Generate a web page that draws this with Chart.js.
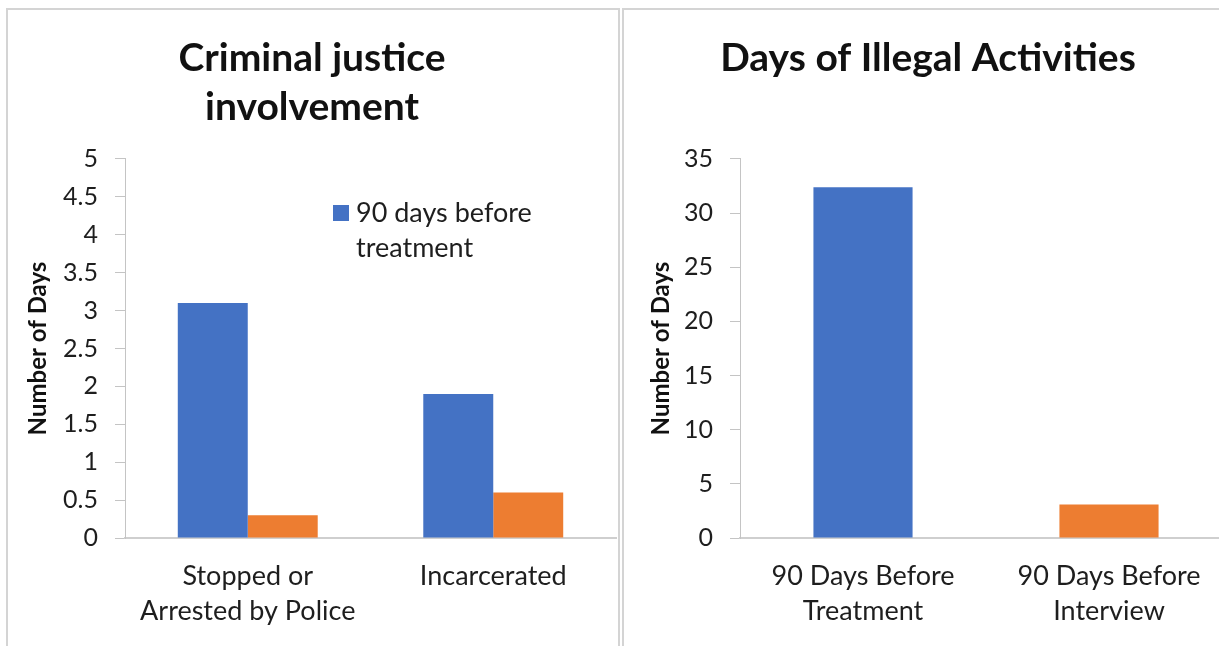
<!DOCTYPE html>
<html>
<head>
<meta charset="utf-8">
<script src="https://cdn.jsdelivr.net/npm/chart.js@4.4.1/dist/chart.umd.min.js"></script>
<style>
  html, body { margin: 0; padding: 0; background: #fff; overflow: hidden; width: 1219px; height: 646px; }
  .box { position: absolute; border: 2px solid #d4d4d4; border-bottom: none; background: #fff; }
  #boxL { left: 6px; top: 8px; width: 610px; height: 700px; }
  #boxR { left: 622px; top: 8px; width: 640px; height: 700px; }
  canvas { display: block; }
</style>
</head>
<body>
<div id="boxL" class="box"><canvas id="cL" width="610" height="636"></canvas></div>
<div id="boxR" class="box"><canvas id="cR" width="612" height="636"></canvas></div>
<script>
// ---- Data ----
const leftTitle = ['Criminal justice', 'involvement'];
const leftCategories = [['Stopped or', 'Arrested by Police'], 'Incarcerated'];
const leftSeriesNames = ['90 days before treatment', '90 days before interview'];
const leftBefore = [3.1, 1.9];
const leftAfter = [0.3, 0.6];
const leftTicks = { min: 0, max: 5, step: 0.5 };

const rightTitle = 'Days of Illegal Activities';
const rightCategories = [['90 Days Before', 'Treatment'], ['90 Days Before', 'Interview']];
const rightValues = [32.4, 3.1];
const rightTicks = { min: 0, max: 35, step: 5 };

const yAxisTitle = 'Number of Days';

// ---- Style ----
const BLUE = '#4472C4';
const ORANGE = '#ED7D31';
const FONT = 'Lato, "Open Sans", sans-serif';
const TEXT = '#1e1e1e';

Chart.defaults.font.family = FONT;
Chart.defaults.color = TEXT;

// custom in-plot legend (wrapped text), drawn from dataset label/color
const innerLegend = {
  id: 'innerLegend',
  afterDraw(chart, args, opts) {
    if (!opts || !opts.display) return;
    const ctx = chart.ctx;
    const ds = chart.data.datasets[opts.datasetIndex || 0];
    ctx.save();
    ctx.font = `${opts.fontSize}px ${FONT}`;
    ctx.fillStyle = ds.backgroundColor;
    ctx.fillRect(opts.x, opts.y, opts.box, opts.box);
    const words = ds.label.split(' ');
    const lines = [];
    let cur = '';
    for (const w of words) {
      const t = cur ? cur + ' ' + w : w;
      if (ctx.measureText(t).width > opts.maxWidth && cur) { lines.push(cur); cur = w; }
      else cur = t;
    }
    if (cur) lines.push(cur);
    ctx.fillStyle = TEXT;
    ctx.textBaseline = 'middle';
    ctx.textAlign = 'left';
    lines.forEach((ln, i) => {
      ctx.fillText(ln, opts.textX, opts.textY + i * opts.lineH);
    });
    ctx.restore();
  }
};

function numLabel(v) { return String(Math.round(v * 100) / 100); }

function makeOptions(cfg) {
  return {
    responsive: false,
    animation: false,
    layout: { padding: { left: 0, right: cfg.padRight, top: 0, bottom: 0 } },
    plugins: {
      legend: { display: false },
      tooltip: { enabled: false },
      title: {
        display: true,
        text: cfg.title,
        color: '#111',
        font: { size: 39, weight: 'bold', family: FONT, lineHeight: 1.256 },
        padding: { top: 24, bottom: cfg.titlePadBottom }
      },
      innerLegend: cfg.legend || { display: false }
    },
    scales: {
      x: {
        grid: { display: false, drawTicks: false },
        border: { display: true, color: '#cfcfcf', width: 2 },
        ticks: { color: TEXT, font: { size: 27, family: FONT, lineHeight: 1.3 }, padding: 21, maxRotation: 0, autoSkip: false },
        afterFit(scale) { scale.height = 108; }
      },
      y: {
        min: cfg.ticks.min, max: cfg.ticks.max,
        grid: { drawOnChartArea: false, drawTicks: true, tickLength: 10, color: '#c4c4c4' },
        border: { display: true, color: '#c4c4c4', width: 1 },
        ticks: { stepSize: cfg.ticks.step, color: TEXT, padding: 17, font: { size: 25, family: FONT }, callback: numLabel },
        title: { display: true, text: yAxisTitle, color: '#111', font: { size: 24, weight: 'bold', family: FONT, lineHeight: 1.2 }, padding: { top: cfg.axisTitlePad, bottom: 0 } },
        afterFit(scale) { scale.width = cfg.yWidth; }
      }
    }
  };
}

new Chart(document.getElementById('cL'), {
  type: 'bar',
  data: {
    labels: leftCategories,
    datasets: [
      { label: leftSeriesNames[0], data: leftBefore, backgroundColor: BLUE, categoryPercentage: 0.57, barPercentage: 1.0 },
      { label: leftSeriesNames[1], data: leftAfter, backgroundColor: ORANGE, categoryPercentage: 0.57, barPercentage: 1.0 }
    ]
  },
  options: makeOptions({
    title: leftTitle, titlePadBottom: 27, ticks: leftTicks, yWidth: 117, padRight: 2, axisTitlePad: 15.5,
    legend: { display: true, datasetIndex: 0, x: 325, y: 195, box: 16, textX: 348, textY: 203, lineH: 35, fontSize: 27, maxWidth: 200 }
  }),
  plugins: [innerLegend]
});

new Chart(document.getElementById('cR'), {
  type: 'bar',
  data: {
    labels: rightCategories,
    datasets: [
      { label: rightTitle, data: rightValues, backgroundColor: [BLUE, ORANGE], categoryPercentage: 0.403, barPercentage: 1.0 }
    ]
  },
  options: makeOptions({
    title: rightTitle, titlePadBottom: 76, ticks: rightTicks, yWidth: 116, padRight: 4, axisTitlePad: 22.5
  }),
  plugins: [innerLegend]
});
</script>
</body>
</html>
